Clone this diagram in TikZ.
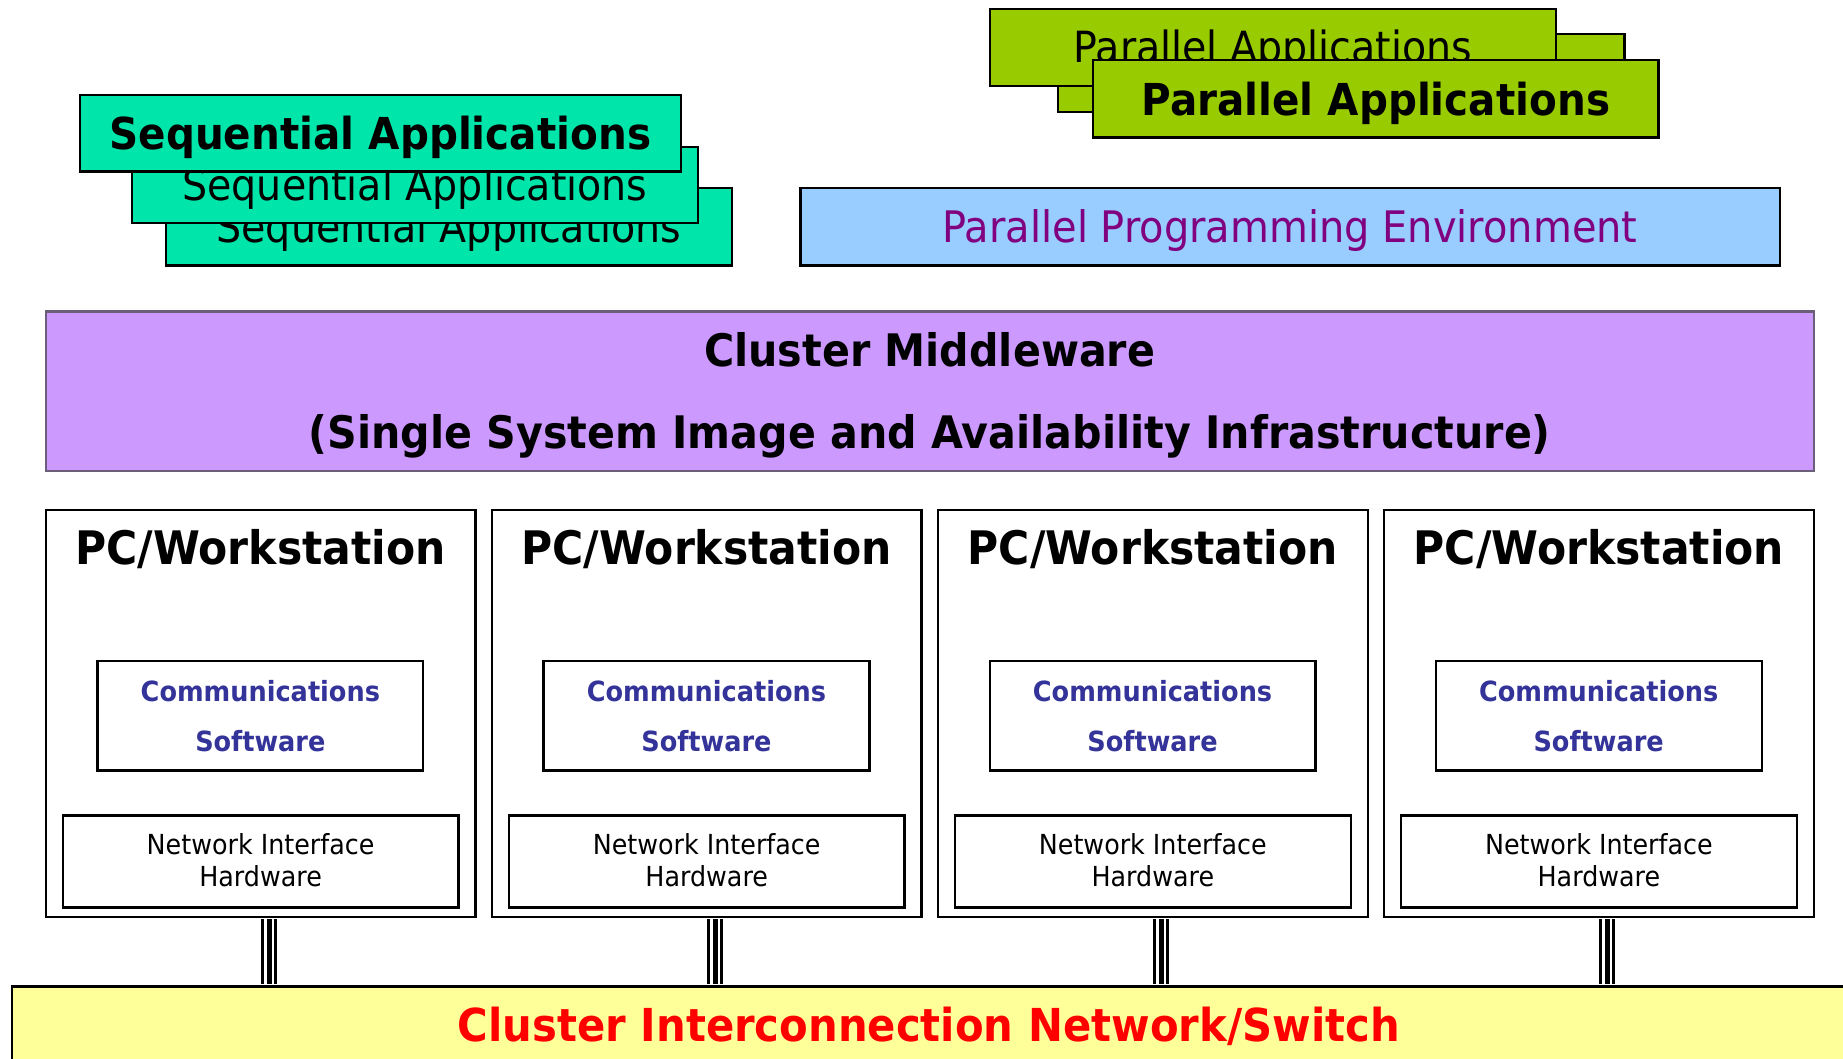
\documentclass[tikz,border=0pt]{standalone}
\usepackage{fontspec}
\setmainfont[FakeStretch=0.92]{DejaVu Sans}
\usetikzlibrary{fit}
\definecolor{seqgreen}{HTML}{00E6AA}
\definecolor{pargreen}{HTML}{99CC00}
\definecolor{ppeblue}{HTML}{99CCFF}
\definecolor{ppetext}{HTML}{800080}
\definecolor{mwpurple}{HTML}{CC99FF}
\definecolor{mwborder}{HTML}{6A5E78}
\definecolor{commblue}{HTML}{333399}
\definecolor{netyellow}{HTML}{FFFF99}
\definecolor{netred}{HTML}{FF0000}
\newcommand\fBigBold{\fontsize{22}{26}\selectfont\bfseries}
\newcommand\fMidBold{\fontsize{22.4}{26}\selectfont\bfseries}
\newcommand\fBigNorm{\fontsize{21.5}{26}\selectfont}
\newcommand\fPPE{\fontsize{21.7}{26}\selectfont}
\newcommand\fPC{\fontsize{23.1}{27}\selectfont\bfseries}
\newcommand\fNet{\fontsize{22.7}{27}\selectfont\bfseries}
\newcommand\fSmBold{\fontsize{13.9}{16}\selectfont\bfseries}
\newcommand\fSmNorm{\fontsize{13.8}{16}\selectfont}
\tikzset{
  box/.style={draw=black, line width=1.1pt, inner sep=0pt},
  txt/.style={anchor=base, inner sep=0pt, outer sep=0pt},
  triple/.style={line width=8pt, black,
    postaction={draw=white, line width=5pt,
      postaction={draw=black, line width=2.5pt}}},
}
\begin{document}
\begin{tikzpicture}[x=0.5pt,y=-0.5pt]
\useasboundingbox (0,0) rectangle (1843,1059);
\clip (0,0) rectangle (1843,1059);
\fill[white] (0,0) rectangle (1843,1059);

% ---- Sequential applications stack
\node[box, fill=seqgreen, fit={(165.7,188) (732.3,265.6)}] (seqC) {};
\node[txt, font=\fBigNorm] (seqCt) at ([yshift=-7.8pt]seqC.center) {Sequential Applications};
\node[box, fill=seqgreen, fit={(131.6,147) (698.2,223)}] (seqB) {};
\node[txt, font=\fBigNorm] (seqBt) at ([yshift=-7.8pt]seqB.center) {Sequential Applications};
\node[box, fill=seqgreen, fit={(80,95) (680.6,171.6)}] (seqA) {};
\node[txt, font=\fBigBold] (seqAt) at ([yshift=-7.9pt]seqA.center) {Sequential Applications};

% ---- Parallel applications stack
\node[box, fill=pargreen, fit={(1057.9,34) (1624.4,111.7)}] (parB) {};
\node[box, fill=pargreen, fit={(989.7,9.4) (1556.2,85.8)}] (parC) {};
\node[txt, font=\fBigNorm] (parCt) at ([yshift=-7.6pt]parC.center) {Parallel Applications};
\node[box, fill=pargreen, fit={(1093,60) (1658.5,137.5)}] (parA) {};
\node[txt, font=\fBigBold] (parAt) at ([yshift=-8.3pt]parA.center) {Parallel Applications};

% ---- Parallel programming environment
\node[box, fill=ppeblue, fit={(800.5,188) (1779.6,265.6)}] (ppe) {};
\node[txt, font=\fPPE, text=ppetext] (ppet) at ([yshift=-8pt]ppe.center) {Parallel Programming Environment};

% ---- Middleware
\node[box, draw=mwborder, fill=mwpurple, fit={(45.8,311.5) (1813.6,471.3)}] (mw) {};
\node[txt, font=\fMidBold] (mwt1) at ([yshift=12.35pt]mw.center) {Cluster Middleware};
\node[txt, font=\fMidBold] (mwt2) at ([yshift=-28.4pt]mw.center) {(Single System Image and Availability Infrastructure)};

% ---- Network
\node[box, fill=netyellow, fit={(11.7,986.5) (1846,1120)}] (net) {};
\node[txt, font=\fNet, text=netred] (nett) at ([yshift=-28.1pt]net.north) {Cluster Interconnection Network/Switch};

% ---- PC / Workstations
\foreach \i [evaluate=\i as \l using 45.8+446.1*(\i-1)] in {1,...,4} {
  \node[box, fill=white, fit={(\l,510) (\l+429.6,917)}] (pc\i) {};
  \node[txt, font=\fPC] (pct\i) at ([yshift=-27.8pt]pc\i.north) {PC/Workstation};
  \node[box, fit={(\l+51.6,661) (\l+377.5,770.5)}] (com\i) {};
  \node[txt, font=\fSmBold, text=commblue] (comt\i) at ([yshift=7pt]com\i.center) {Communications};
  \node[txt, font=\fSmBold, text=commblue] (coms\i) at ([yshift=-17.8pt]com\i.center) {Software};
  \node[box, fit={(\l+17,815.5) (\l+412.6,907.4)}] (nih\i) {};
  \node[txt, font=\fSmNorm] (niht\i) at ([yshift=3.3pt]nih\i.center) {Network Interface};
  \node[txt, font=\fSmNorm] (nihh\i) at ([yshift=-12.4pt]nih\i.center) {Hardware};
  \draw[triple, shorten <=0.55pt, shorten >=0.55pt]
    ([xshift=4.25pt]pc\i.south) -- ([xshift=4.25pt]pc\i.south |- net.north);
}
\end{tikzpicture}
\end{document}
